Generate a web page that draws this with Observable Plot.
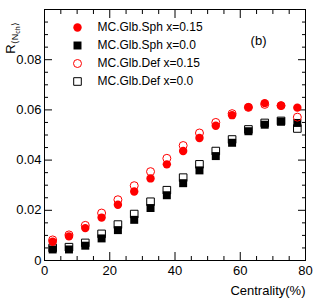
<!DOCTYPE html>
<html>
<head>
<meta charset="utf-8">
<script src="https://cdn.jsdelivr.net/npm/d3@7"></script>
<script src="https://cdn.jsdelivr.net/npm/@observablehq/plot@0.6"></script>
<style>
  html, body { margin: 0; padding: 0; background: white; }
  #chart { width: 315px; height: 303px; }
</style>
</head>
<body>
<div id="chart"></div>
<script>
const centrality = [2.5, 7.5, 12.5, 17.5, 22.5, 27.5, 32.5, 37.5, 42.5, 47.5, 52.5, 57.5, 62.5, 67.5, 72.5, 77.5];
const sphX015 = [0.0075, 0.0096, 0.0129, 0.0171, 0.0222, 0.0275, 0.0327, 0.0383, 0.0436, 0.0488, 0.0537, 0.0579, 0.0611, 0.0627, 0.0617, 0.0609];
const sphX000 = [0.0044, 0.0044, 0.0059, 0.0088, 0.0121, 0.0162, 0.0209, 0.0260, 0.0308, 0.0359, 0.0416, 0.0469, 0.0515, 0.0541, 0.0553, 0.0548];
const defX015 = [0.0082, 0.0102, 0.0140, 0.0189, 0.0242, 0.0298, 0.0354, 0.0407, 0.0458, 0.0508, 0.0550, 0.0585, 0.0610, 0.0622, 0.0617, 0.0571];
const defX000 = [0.0050, 0.0053, 0.0070, 0.0106, 0.0143, 0.0185, 0.0234, 0.0280, 0.0330, 0.0383, 0.0436, 0.0482, 0.0522, 0.0548, 0.0556, 0.0526];
const seriesNames = ["MC.Glb.Sph x=0.15", "MC.Glb.Sph x=0.0", "MC.Glb.Def x=0.15", "MC.Glb.Def x=0.0"];
const xMajorTicks = [0, 20, 40, 60, 80];
const yMajorTicks = [0, 0.02, 0.04, 0.06, 0.08];
const panelLabel = "(b)";
const xLabel = "Centrality(%)";

const rows = (vals) => centrality.map((c, i) => ({c, v: vals[i]}));
const xMinor = d3.range(0, 80.01, 5).filter(t => t % 20 !== 0);
const yMinor = d3.range(0, 0.1001, 0.005).filter(t => Math.abs(t / 0.02 - Math.round(t / 0.02)) > 1e-6);

const styles = [
  {symbol: "circle", fill: "#ff0000", stroke: "none", r: 4.2},
  {symbol: "square", fill: "black", stroke: "none", r: 4.5},
  {symbol: "circle", fill: "none", stroke: "#ff0000", r: 4.0},
  {symbol: "square", fill: "none", stroke: "black", r: 4.3}
];
const data = [sphX015, sphX000, defX015, defX000];

const dotMark = (k) => Plot.dot(rows(data[k]), {x: "c", y: "v", symbol: styles[k].symbol, fill: styles[k].fill, stroke: styles[k].stroke, strokeWidth: 1, r: styles[k].r});

const legendMarks = [];
seriesNames.forEach((name, i) => {
  legendMarks.push(Plot.dot([name], {frameAnchor: "top-left", dx: 33, dy: 18 + i * 18, symbol: styles[i].symbol, fill: styles[i].fill, stroke: styles[i].stroke, strokeWidth: 1, r: styles[i].r}));
  legendMarks.push(Plot.text([name], {frameAnchor: "top-left", dx: 53, dy: 18 + i * 18, text: d => d, textAnchor: "start", fontSize: 12, lineAnchor: "middle"}));
});

const noText = {fill: "none", label: null};

const plot = Plot.plot({
  width: 315,
  height: 303,
  marginLeft: 44,
  marginRight: 10,
  marginTop: 9,
  marginBottom: 43,
  style: {fontFamily: "'Liberation Sans', Arial, sans-serif", fontSize: "13px", color: "black", background: "white"},
  x: {domain: [0, 80]},
  y: {domain: [0, 0.1]},
  marks: [
    Plot.axisX({anchor: "bottom", ticks: xMajorTicks, tickSize: -8, tickPadding: 13, tickFormat: d => String(d), label: null, fontSize: 13}),
    Plot.axisX({anchor: "bottom", ticks: xMinor, tickSize: -4, ...noText}),
    Plot.axisX({anchor: "top", ticks: xMajorTicks, tickSize: -8, ...noText}),
    Plot.axisX({anchor: "top", ticks: xMinor, tickSize: -4, ...noText}),
    Plot.axisY({anchor: "left", ticks: yMajorTicks, tickSize: -8, tickPadding: 11, tickFormat: d => d === 0 ? "0" : d.toFixed(2), label: null, fontSize: 13}),
    Plot.axisY({anchor: "left", ticks: yMinor, tickSize: -4, ...noText}),
    Plot.axisY({anchor: "right", ticks: yMajorTicks, tickSize: -8, ...noText}),
    Plot.axisY({anchor: "right", ticks: yMinor, tickSize: -4, ...noText}),
    Plot.frame({stroke: "black", strokeWidth: 1}),
    dotMark(3), dotMark(1), dotMark(2), dotMark(0),
    ...legendMarks,
    Plot.text([panelLabel], {frameAnchor: "top-right", dx: -39, dy: 26, text: d => d, fontSize: 13}),
    Plot.text([xLabel], {frameAnchor: "bottom-right", dy: 34, text: d => d, textAnchor: "end", fontSize: 13})
  ]
});

const svg = d3.select(plot);
const yl = svg.append("text")
  .attr("transform", "translate(15,38) rotate(-90)")
  .attr("font-size", 13)
  .attr("fill", "black");
yl.append("tspan").text("R");
yl.append("tspan").attr("font-size", 9).attr("dy", 3).text("⟨N");
yl.append("tspan").attr("font-size", 7).attr("dy", 2).text("ch");
yl.append("tspan").attr("font-size", 9).attr("dy", -2).text("⟩");

document.getElementById("chart").appendChild(plot);
</script>
</body>
</html>
